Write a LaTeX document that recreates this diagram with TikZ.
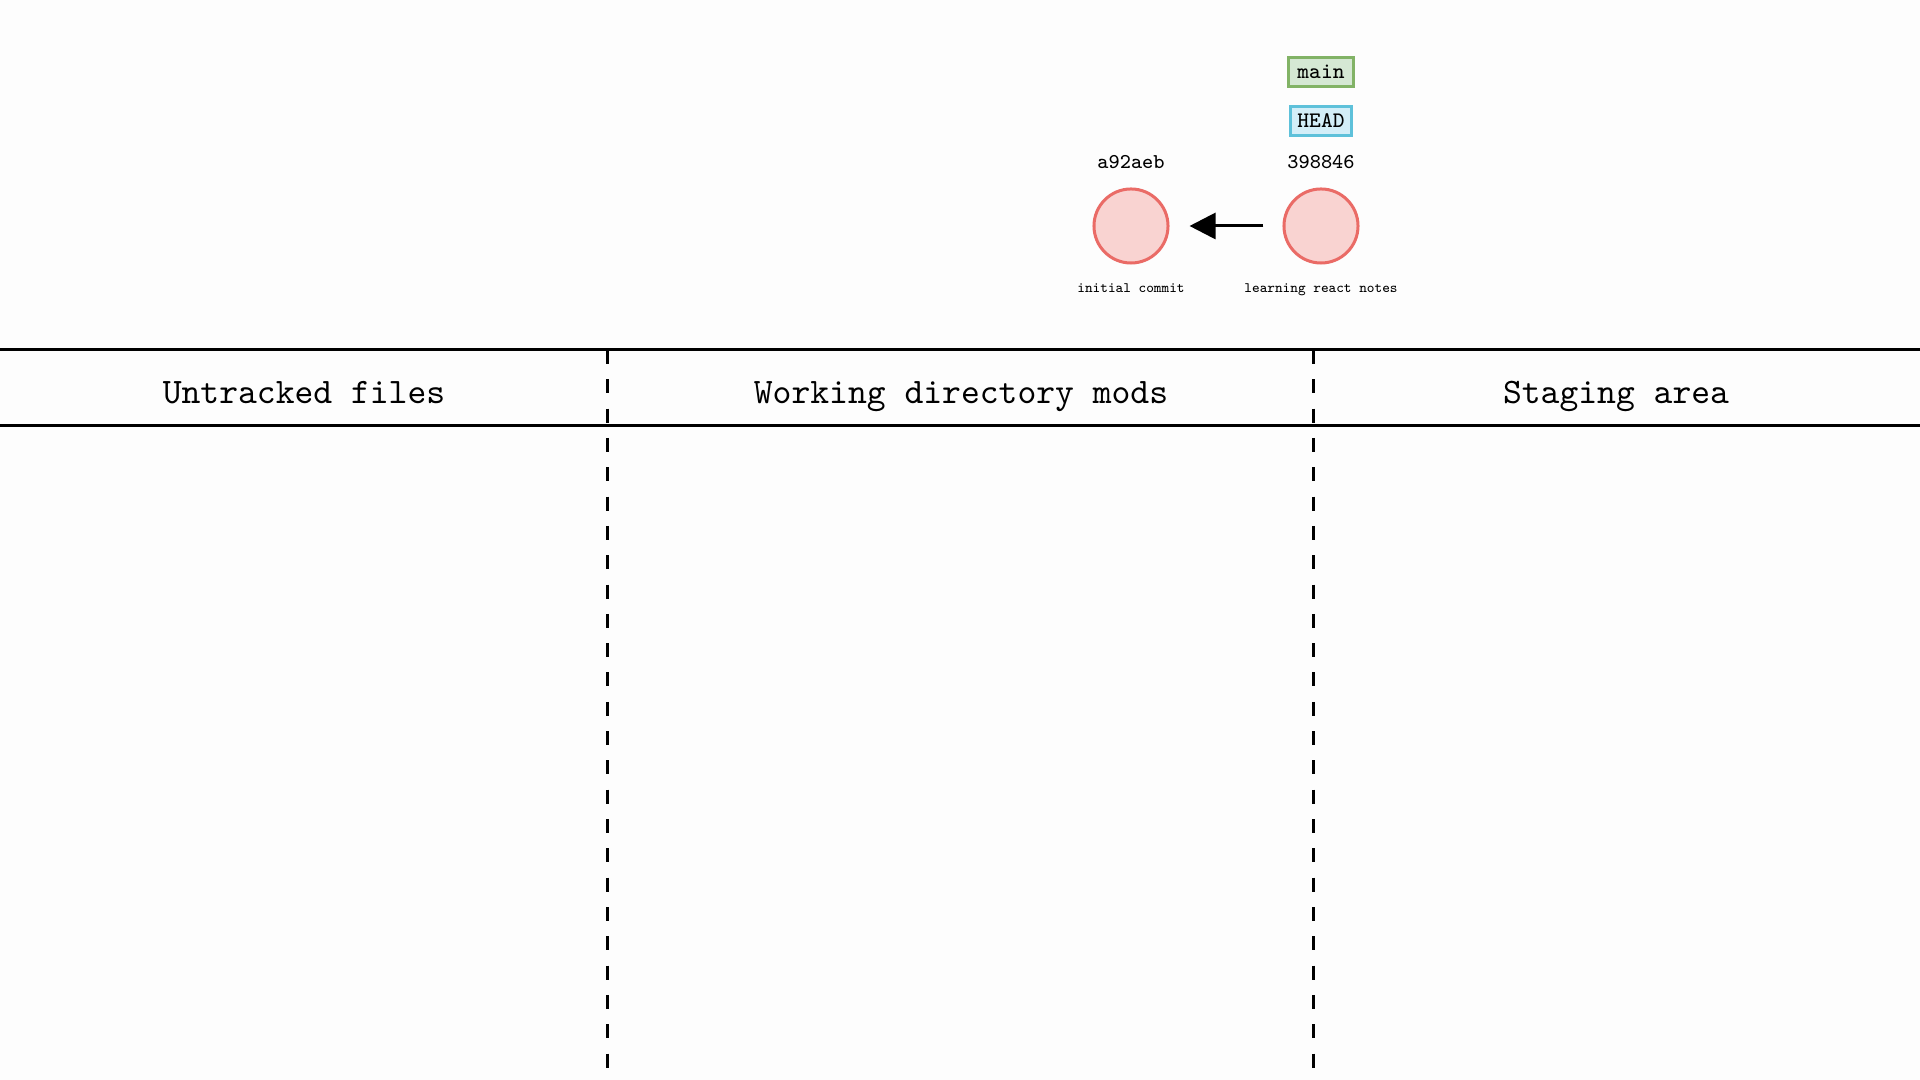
\documentclass[tikz,border=0pt]{standalone}
\usepackage{fontspec}
\usetikzlibrary{arrows.meta}
\definecolor{bgc}{HTML}{FDFDFD}
\definecolor{cfill}{HTML}{F9D3D1}
\definecolor{cline}{HTML}{EA6B66}
\definecolor{mfill}{HTML}{D5E8D4}
\definecolor{mline}{HTML}{82B366}
\definecolor{hfill}{HTML}{D3EEF8}
\definecolor{hline}{HTML}{5EC1DA}
\tikzset{
  commit/.style={circle, draw=cline, fill=cfill, line width=0.03cm, minimum size=0.74cm, inner sep=0pt},
  hashlbl/.style={font=\ttfamily\fontsize{6.0pt}{7pt}\selectfont, anchor=base, inner sep=0pt},
  msglbl/.style={font=\ttfamily\fontsize{4.1pt}{5pt}\selectfont, anchor=base, inner sep=0pt},
  refbox/.style={draw, line width=0.03cm, minimum height=0.29cm, inner sep=0pt, font=\ttfamily\fontsize{6.3pt}{7pt}\selectfont},
  header/.style={font=\ttfamily\fontsize{10.2pt}{12pt}\selectfont, anchor=base, inner sep=0pt},
  rule/.style={line width=0.03cm, black},
  divider/.style={line width=0.03cm, black, dash pattern=on 0.14cm off 0.153cm},
  parent/.style={line width=0.03cm, -{Triangle[length=0.26cm,width=0.26cm]}}
}
\begin{document}
\begin{tikzpicture}[x=0.01cm,y=-0.01cm]
\fill[bgc] (0,0) rectangle (1920,1080);
\useasboundingbox (0,0) rectangle (1920,1080);
% commits
\node[commit] (c1) at (1131,226) {};
\node[commit] (c2) at (1321,226) {};
\node[hashlbl] (h1) at (1131,169) {a92aeb};
\node[hashlbl] (h2) at (1321,169) {398846};
\node[msglbl] (m1) at (1131,293) {initial commit};
\node[msglbl] (m2) at (1321,293) {learning react notes};
\draw[parent, shorten <=0.19cm, shorten >=0.20cm] (c2.west) -- (c1.east);
% refs
\node[refbox, draw=mline, fill=mfill, minimum width=0.64cm] (main) at (1321,72) {main};
\node[refbox, draw=hline, fill=hfill, minimum width=0.60cm] (head) at (1321,121) {HEAD};
% table
\coordinate (tl) at (0,350);
\coordinate (tr) at (1920,350);
\coordinate (bl) at (0,426);
\coordinate (br) at (1920,426);
\draw[rule] (tl) -- (tr);
\draw[rule] (bl) -- (br);
\coordinate (d1t) at (607.5,350);
\coordinate (d1b) at (607.5,1080);
\coordinate (d2t) at (1313,350);
\coordinate (d2b) at (1313,1080);
\draw[divider] (d1t) -- (d1b);
\draw[divider] (d2t) -- (d2b);
\node[header] (untr) at (304,404) {Untracked files};
\node[header] (work) at (961,404) {Working directory mods};
\node[header] (stag) at (1616,404) {Staging area};
\end{tikzpicture}
\end{document}
